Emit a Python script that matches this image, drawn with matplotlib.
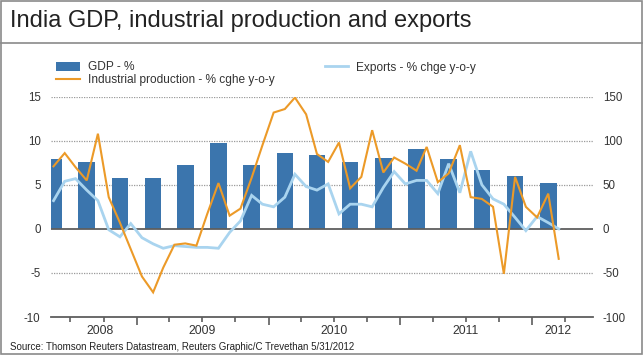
import matplotlib
matplotlib.use('Agg')
import matplotlib.pyplot as plt
import matplotlib.dates as mdates
import matplotlib.transforms as mtransforms
import numpy as np
import pandas as pd
from matplotlib.lines import Line2D
from matplotlib.patches import Patch, Rectangle

plt.rcParams['font.family'] = ['Liberation Sans', 'DejaVu Sans']

# ---------------- data ----------------
title = "India GDP, industrial production and exports"
source = "Source: Thomson Reuters Datastream, Reuters Graphic/C Trevethan 5/31/2012"

gdp_label = "GDP - %"
ip_label = "Industrial production - % cghe y-o-y"
exp_label = "Exports - % chge y-o-y"

# quarterly GDP growth (%), Apr-Jun 2008 .. Jan-Mar 2012, plotted at mid-quarter
gdp_start = "2008-05-01"
gdp = [7.9, 7.6, 5.8, 5.8, 7.3, 9.7, 7.3, 8.6, 8.4, 7.6, 8.0, 9.1, 7.9, 6.7, 6.0, 5.2]

# monthly series, May 2008 .. Mar 2012, plotted mid-month
month_start = "2008-05-01"
ip = [7.1, 8.6, 7.0, 5.5, 10.8, 3.6, 0.7, -2.3, -5.4, -7.2, -4.4, -1.8, -1.65, -1.9,
      1.7, 5.2, 1.5, 2.3, 5.8, 9.5, 13.2, 13.6, 14.9, 13.0, 8.5, 7.6, 9.8, 4.6, 5.9,
      11.2, 6.4, 8.1, 7.4, 6.6, 9.3, 5.3, 6.3, 9.5, 3.6, 3.4, 2.5, -5.1, 5.9, 2.5,
      1.3, 4.0, -3.4]
exports = [32, 54, 57, 44, 32, -1, -9, 6, -10, -17, -22, -19, -20, -21, -21, -22,
           -4, 9, 38, 28, 25, 36, 62, 48, 44, 51, 17, 28, 28, 25, 47, 65, 51, 55, 55,
           40, 74, 41, 88, 50, 34, 28, 13, -2, 14, 7, 0]

years = ["2008", "2009", "2010", "2011", "2012"]
left_ticks = [-10, -5, 0, 5, 10, 15]
right_ticks = [-100, -50, 0, 50, 100, 150]

# ---------------- styling ----------------
BAR = '#3b75ad'
ORANGE = '#ec9a28'
LIGHT = '#a9d4ef'
TXT = '#333333'
GRID = '#9a9a9a'
AXC = '#5e5e5e'

W, H = 644, 355
fig = plt.figure(figsize=(W / 100, H / 100), dpi=100)
fig.patch.set_facecolor('white')


def fx(px):
    return px / W


def fy(py):
    return 1 - py / H


ax = fig.add_axes([fx(51), fy(317), fx(593) - fx(51), fy(96.7) - fy(317)])
ax2 = ax.twinx()
ax3 = ax.twinx()
ax.set_zorder(1)
ax2.set_zorder(2)
ax3.set_zorder(3)
ax.patch.set_visible(False)

months = pd.date_range(month_start, periods=len(ip), freq='MS') + pd.Timedelta(days=14)
quarters = pd.date_range(gdp_start, periods=len(gdp), freq='3MS') + pd.Timedelta(days=14)

ax.bar(quarters, gdp, width=46, color=BAR, zorder=2)
ax2.plot(months, exports, color=LIGHT, lw=2.0, solid_joinstyle='miter')
ax3.plot(months, ip, color=ORANGE, lw=1.5, solid_joinstyle='miter')

xmin = mdates.date2num(pd.Timestamp("2008-05-08"))
xmax = mdates.date2num(pd.Timestamp("2012-06-18"))
for a in (ax, ax2, ax3):
    a.set_xlim(xmin, xmax)
    for s in a.spines.values():
        s.set_visible(False)

ax.set_ylim(-10, 15)
ax3.set_ylim(-10, 15)
ax2.set_ylim(-100, 150)

for g in (15, 10, 5, -5):
    ax.axhline(g, color=GRID, lw=0.9, ls=(0, (1, 1)), zorder=0)
ax.axhline(0, color=AXC, lw=1.3, zorder=3)

ax.spines['bottom'].set_visible(True)
ax.spines['bottom'].set_color(AXC)
ax.spines['bottom'].set_linewidth(1.3)

ax.set_yticks(left_ticks)
ax.set_yticklabels([str(t) for t in left_ticks])
ax.tick_params(axis='y', length=0, pad=7.5, labelsize=8.3, labelcolor=TXT)
ax2.set_yticks(right_ticks)
ax2.set_yticklabels([str(t) for t in right_ticks])
ax2.tick_params(axis='y', length=0, pad=7, labelsize=8.3, labelcolor=TXT)
ax3.set_yticks([])
ax2.set_xticks([])
ax3.set_xticks([])

ax.xaxis.set_major_locator(mdates.YearLocator())
ax.xaxis.set_minor_locator(mdates.MonthLocator(bymonth=[1, 4, 7, 10]))
ax.tick_params(axis='x', which='major', length=6, width=1.2, color=AXC, labelbottom=False)
ax.tick_params(axis='x', which='minor', length=3.5, width=1.2, color=AXC, labelbottom=False)

label_tr = mtransforms.blended_transform_factory(ax.transData, fig.transFigure)
label_dates = ["2008-09-20", "2009-07-01", "2010-07-01", "2011-07-01", "2012-03-12"]
for d, y in zip(label_dates, years):
    ax.text(mdates.date2num(pd.Timestamp(d)), fy(331), y, transform=label_tr,
            ha='center', va='center', fontsize=8.7, color=TXT)

handles = [Patch(facecolor=BAR, edgecolor='none'),
           Line2D([], [], color=ORANGE, lw=1.5),
           Line2D([], [], color=LIGHT, lw=2.0)]
fig.legend(handles, [gdp_label, ip_label, exp_label], ncol=2, loc='upper left',
           bbox_to_anchor=(fx(56), fy(61.5)), frameon=False, fontsize=8.6,
           handlelength=2.0, handleheight=0.75, handletextpad=0.65, columnspacing=4.2,
           labelspacing=0.05, borderpad=0, borderaxespad=0, labelcolor=TXT)

fig.text(fx(10), fy(27.3), title, fontsize=17.0, va='baseline', ha='left', color='#222222')
fig.text(fx(10), fy(350.5), source, fontsize=7.0, va='baseline', ha='left', color='#222222')

fig.add_artist(Rectangle((fx(1), fy(353.5)), fx(642) - fx(1), fy(1) - fy(353.5),
                         transform=fig.transFigure, fill=False, ec='#8a8a8a', lw=1.2))
fig.add_artist(Line2D([fx(1), fx(642)], [fy(43), fy(43)], transform=fig.transFigure,
                      color='#8a8a8a', lw=1.2))

fig.savefig('out.png', dpi=100)
